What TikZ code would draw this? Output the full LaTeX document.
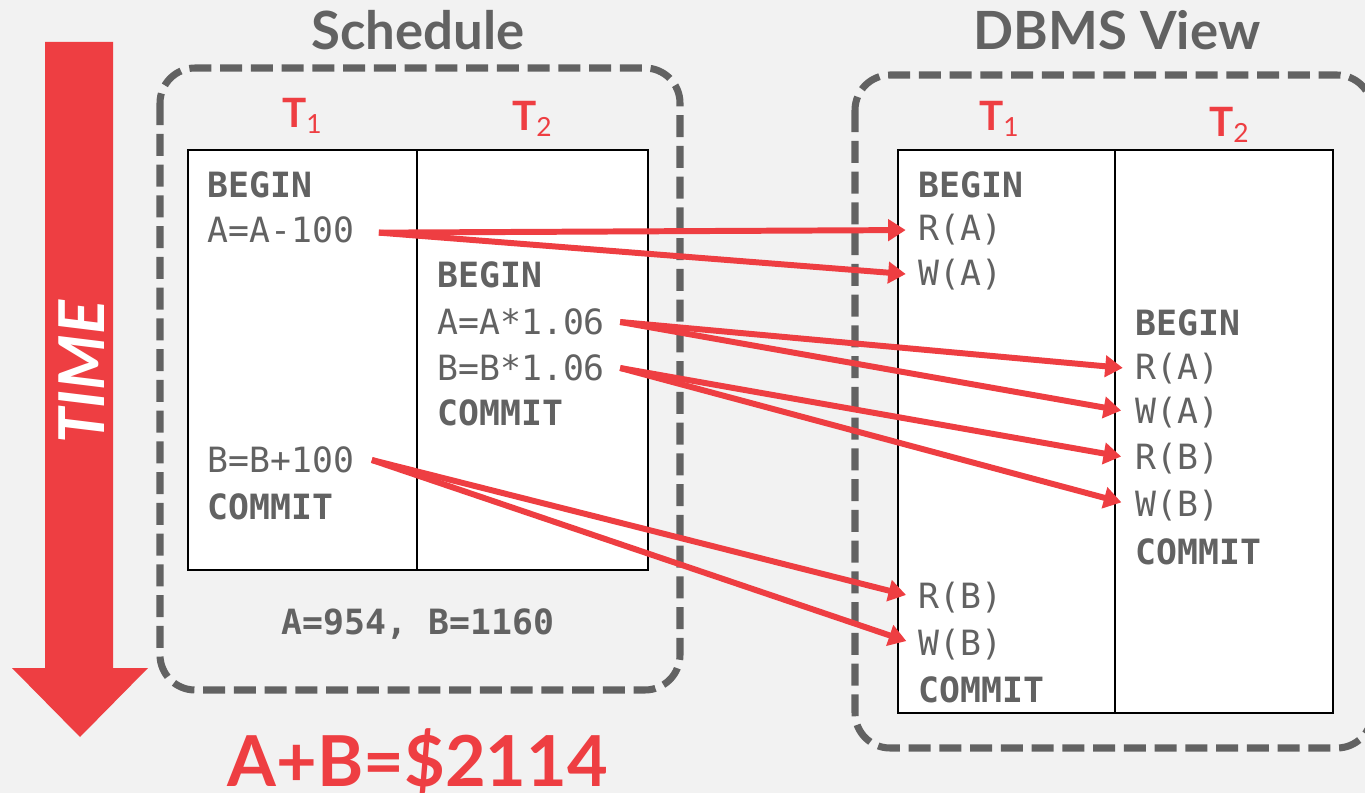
\documentclass[tikz,border=0pt]{standalone}
\usepackage{fontspec}
\setmainfont{Lato}
\setmonofont{DejaVu Sans Mono}
\usetikzlibrary{arrows.meta}
\definecolor{dbRed}{RGB}{238,62,66}
\definecolor{dbGray}{RGB}{98,98,98}
\definecolor{dbBack}{RGB}{242,242,242}
\newcommand{\tlab}[1]{T\raisebox{-3.4pt}{\mdseries\fontsize{15}{15}\selectfont #1}}

\begin{document}
\begin{tikzpicture}[
    x=0.02cm, y=-0.02cm,
    op/.style={anchor=west, inner sep=0pt, text=dbGray, font=\ttfamily\fontsize{19.8}{24}\selectfont},
    kw/.style={op, font=\ttfamily\bfseries\fontsize{19.8}{24}\selectfont},
    title/.style={anchor=base, inner sep=0pt, text=dbGray, font=\bfseries\fontsize{30}{32}\selectfont},
    tx/.style={anchor=base, inner sep=0pt, text=dbRed, font=\bfseries\fontsize{23}{26}\selectfont},
    dashbox/.style={draw=dbGray, line width=4pt, rounded corners=20pt, dash pattern=on 12.5pt off 5pt},
    grid/.style={draw=black, line width=1.2pt},
    flow/.style={draw=dbRed, line width=3.4pt, -{Triangle[length=10pt,width=12pt]}},
  ]

  \useasboundingbox (0,0) rectangle (1365,793);
  \clip (0,0) rectangle (1365,793);
  \fill[dbBack] (0,0) rectangle (1365,793);

  % time runs downwards
  \fill[dbRed] (45,42) -- (113,42) -- (113,668) -- (148,668) -- (80,737) -- (12,668) -- (45,668) -- cycle;
  \node[rotate=90, text=white, inner sep=0pt, font=\bfseries\itshape\fontsize{36}{36}\selectfont] (time) at (82,372) {TIME};

  % titles
  \node[title] (sched) at (418,50) {Schedule};
  \node[title] (dbms) at (1117,50) {DBMS View};

  % dashed frames
  \draw[dashbox] (160,68) rectangle (680,690);
  \draw[dashbox] (855,75) rectangle (1372,748);

  % the two tables
  \draw[grid, fill=white] (188,150) rectangle (648,570);
  \draw[grid] (417,150) -- (417,570);
  \draw[grid, fill=white] (898,150) rectangle (1333,713);
  \draw[grid] (1115,150) -- (1115,713);

  \node[tx] (sT1) at (302,128) {\tlab{1}};
  \node[tx] (sT2) at (532,131) {\tlab{2}};
  \node[tx] (dT1) at (999,131) {\tlab{1}};
  \node[tx] (dT2) at (1229,137) {\tlab{2}};

  % schedule as written
  \foreach \n/\y/\s/\txt in {sBg1/185/kw/BEGIN, sA1/230/op/A=A-100, sB1/460/op/B=B+100, sCm1/507/kw/COMMIT}
    \node[\s] (\n) at (207,\y) {\txt};
  \foreach \n/\y/\s/\txt in {sBg2/275/kw/BEGIN, sA2/322/op/A=A*1.06, sB2/368/op/B=B*1.06, sCm2/413/kw/COMMIT}
    \node[\s] (\n) at (437,\y) {\txt};
  \node[kw, anchor=center] (res) at (418,624) {A=954, B=1160};
  \node[anchor=base, inner sep=0pt, text=dbRed, font=\bfseries\fontsize{40}{40}\selectfont] (sum) at (418,786) {A+B=\$2114};

  % what the DBMS sees
  \foreach \n/\y/\s/\txt in {dBg1/185/kw/BEGIN, dRA1/230/op/R(A), dWA1/275/op/W(A), dRB1/598/op/R(B), dWB1/645/op/W(B), dCm1/690/kw/COMMIT}
    \node[\s] (\n) at (918,\y) {\txt};
  \foreach \n/\y/\s/\txt in {dBg2/323/kw/BEGIN, dRA2/369/op/R(A), dWA2/413/op/W(A), dRB2/459/op/R(B), dWB2/506/op/W(B), dCm2/552/kw/COMMIT}
    \node[\s] (\n) at (1135,\y) {\txt};

  % mapping
  \coordinate (oA1) at ([xshift=14pt,yshift=-1.5pt]sA1.east);
  \coordinate (oA2) at ([xshift=8.5pt]sA2.east);
  \coordinate (oB2) at ([xshift=8.5pt]sB2.east);
  \coordinate (oB1) at ([xshift=10pt]sB1.east);
  \draw[flow, shorten >=7pt] (oA1) -- (dRA1.west);
  \draw[flow, shorten >=7pt] (oA1) -- (dWA1.west);
  \draw[flow, shorten >=7pt] (oA2) -- (dRA2.west);
  \draw[flow, shorten >=8pt] (oA2) -- (dWA2.west);
  \draw[flow, shorten >=8pt] (oB2) -- (dRB2.west);
  \draw[flow, shorten >=8pt] (oB2) -- (dWB2.west);
  \draw[flow, shorten >=7pt] (oB1) -- (dRB1.west);
  \draw[flow, shorten >=7pt] (oB1) -- (dWB1.west);

\end{tikzpicture}
\end{document}
